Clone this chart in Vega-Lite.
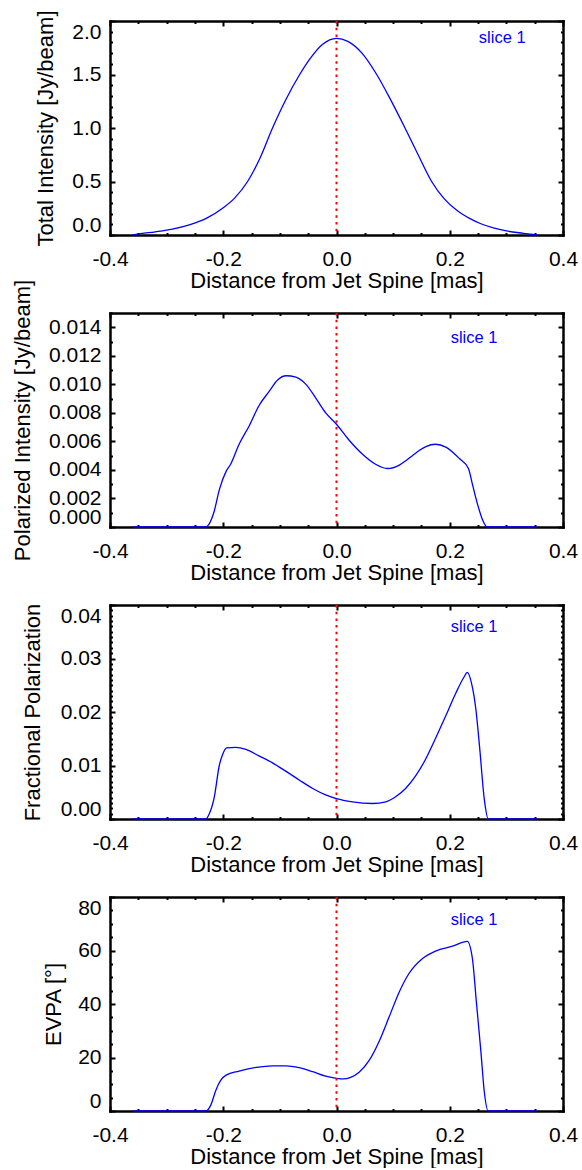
{
  "$schema": "https://vega.github.io/schema/vega-lite/v6.json",
  "padding": {"left": 11, "top": 10, "right": 0, "bottom": 0},
  "spacing": 78,
  "bounds": "flush",
  "config": {
    "view": {"stroke": null},
    "font": "Liberation Sans",
    "axis": {
      "labelFont": "Liberation Sans", "labelFontSize": 21, "labelColor": "#000000",
      "titleFont": "Liberation Sans", "titleFontSize": 22, "titleFontWeight": "normal", "titleColor": "#000000",
      "domainColor": "#000000", "domainWidth": 2.5, "domainCap": "square",
      "tickColor": "#000000", "tickWidth": 2, "grid": false,
      "labelOverlap": false, "labelBound": false
    }
  },
  "datasets": {
    "p1": [
      {"distance": -0.36, "value": 0}, {"distance": -0.35, "value": 0.01}, {"distance": -0.32, "value": 0.03},
      {"distance": -0.29, "value": 0.055}, {"distance": -0.26, "value": 0.095}, {"distance": -0.23, "value": 0.155},
      {"distance": -0.2, "value": 0.255}, {"distance": -0.18, "value": 0.345}, {"distance": -0.157, "value": 0.5},
      {"distance": -0.135, "value": 0.72}, {"distance": -0.113, "value": 1.0}, {"distance": -0.09, "value": 1.26},
      {"distance": -0.065, "value": 1.5}, {"distance": -0.045, "value": 1.66}, {"distance": -0.025, "value": 1.78},
      {"distance": 0.0, "value": 1.838}, {"distance": 0.02, "value": 1.81}, {"distance": 0.045, "value": 1.7},
      {"distance": 0.071, "value": 1.5}, {"distance": 0.095, "value": 1.27}, {"distance": 0.121, "value": 1.0},
      {"distance": 0.145, "value": 0.74}, {"distance": 0.168, "value": 0.5}, {"distance": 0.19, "value": 0.34},
      {"distance": 0.213, "value": 0.228}, {"distance": 0.235, "value": 0.155}, {"distance": 0.255, "value": 0.105},
      {"distance": 0.277, "value": 0.066}, {"distance": 0.3, "value": 0.038}, {"distance": 0.33, "value": 0.016},
      {"distance": 0.355, "value": 0}
    ],
    "p2": [
      {"distance": -0.36, "value": 0}, {"distance": -0.231, "value": 0}, {"distance": -0.225, "value": 0.0002},
      {"distance": -0.216, "value": 0.0011}, {"distance": -0.207, "value": 0.0026}, {"distance": -0.195, "value": 0.0039},
      {"distance": -0.187, "value": 0.0044}, {"distance": -0.172, "value": 0.0058}, {"distance": -0.154, "value": 0.0071},
      {"distance": -0.137, "value": 0.0085}, {"distance": -0.119, "value": 0.0095}, {"distance": -0.104, "value": 0.0103},
      {"distance": -0.089, "value": 0.0106}, {"distance": -0.072, "value": 0.0105}, {"distance": -0.054, "value": 0.01},
      {"distance": -0.036, "value": 0.009}, {"distance": -0.019, "value": 0.008}, {"distance": 0.0, "value": 0.0072},
      {"distance": 0.022, "value": 0.0061}, {"distance": 0.046, "value": 0.0051}, {"distance": 0.069, "value": 0.0044},
      {"distance": 0.09, "value": 0.0041}, {"distance": 0.111, "value": 0.00434}, {"distance": 0.123, "value": 0.00466},
      {"distance": 0.134, "value": 0.005}, {"distance": 0.146, "value": 0.00536}, {"distance": 0.158, "value": 0.00564},
      {"distance": 0.175, "value": 0.0058}, {"distance": 0.193, "value": 0.0056},
      {"distance": 0.217, "value": 0.0048}, {"distance": 0.233, "value": 0.0041}, {"distance": 0.24, "value": 0.003},
      {"distance": 0.249, "value": 0.0016}, {"distance": 0.258, "value": 0.0005}, {"distance": 0.266, "value": 0},
      {"distance": 0.355, "value": 0}
    ],
    "p3": [
      {"distance": -0.36, "value": 0}, {"distance": -0.231, "value": 0}, {"distance": -0.225, "value": 0.0009},
      {"distance": -0.216, "value": 0.004}, {"distance": -0.207, "value": 0.01}, {"distance": -0.201, "value": 0.0121},
      {"distance": -0.194, "value": 0.0133}, {"distance": -0.178, "value": 0.0134}, {"distance": -0.16, "value": 0.013},
      {"distance": -0.137, "value": 0.0118}, {"distance": -0.113, "value": 0.0105}, {"distance": -0.089, "value": 0.0089},
      {"distance": -0.066, "value": 0.0073}, {"distance": -0.042, "value": 0.0057}, {"distance": -0.019, "value": 0.0045},
      {"distance": 0.0, "value": 0.0038}, {"distance": 0.028, "value": 0.0032}, {"distance": 0.064, "value": 0.0029},
      {"distance": 0.087, "value": 0.0032}, {"distance": 0.105, "value": 0.0042}, {"distance": 0.122, "value": 0.0057},
      {"distance": 0.14, "value": 0.0081}, {"distance": 0.158, "value": 0.0113}, {"distance": 0.175, "value": 0.0151},
      {"distance": 0.193, "value": 0.0193}, {"distance": 0.211, "value": 0.0236}, {"distance": 0.225, "value": 0.0265},
      {"distance": 0.231, "value": 0.0274}, {"distance": 0.239, "value": 0.0251}, {"distance": 0.246, "value": 0.0206},
      {"distance": 0.253, "value": 0.0131}, {"distance": 0.261, "value": 0.0037}, {"distance": 0.268, "value": 0},
      {"distance": 0.355, "value": 0}
    ],
    "p4": [
      {"distance": -0.36, "value": 0}, {"distance": -0.231, "value": 0}, {"distance": -0.222, "value": 2.2},
      {"distance": -0.213, "value": 7.8}, {"distance": -0.204, "value": 11.6}, {"distance": -0.195, "value": 13.4},
      {"distance": -0.172, "value": 14.9}, {"distance": -0.142, "value": 16.3}, {"distance": -0.113, "value": 16.9},
      {"distance": -0.089, "value": 16.9}, {"distance": -0.066, "value": 16.2}, {"distance": -0.042, "value": 14.7},
      {"distance": -0.019, "value": 13.0}, {"distance": 0.0, "value": 12.2}, {"distance": 0.012, "value": 12.0},
      {"distance": 0.025, "value": 12.6}, {"distance": 0.04, "value": 14.5}, {"distance": 0.058, "value": 19.0},
      {"distance": 0.075, "value": 25.9}, {"distance": 0.093, "value": 35.2}, {"distance": 0.111, "value": 44.6},
      {"distance": 0.128, "value": 51.4}, {"distance": 0.152, "value": 57.0}, {"distance": 0.175, "value": 59.8},
      {"distance": 0.205, "value": 61.6}, {"distance": 0.231, "value": 63.4}, {"distance": 0.24, "value": 57.0},
      {"distance": 0.247, "value": 40.8}, {"distance": 0.255, "value": 22.2}, {"distance": 0.261, "value": 7.2},
      {"distance": 0.268, "value": 0}, {"distance": 0.355, "value": 0}
    ]
  },
  "vconcat": [
    {
      "width": 453, "height": 214,
      "layer": [
        {
          "data": {"name": "p1"},
          "mark": {"type": "line", "color": "#0000ff", "strokeWidth": 1.3, "interpolate": "monotone"},
          "encoding": {
            "x": {"field": "distance", "type": "quantitative", "scale": {"domain": [-0.4, 0.4], "nice": false, "zero": false},
              "axis": {"orient": "bottom", "title": "Distance from Jet Spine [mas]", "values": [-0.4,-0.35,-0.3,-0.25,-0.2,-0.15,-0.1,-0.05,0,0.05,0.1,0.15,0.2,0.25,0.3,0.35,0.4],
                "labelExpr": "abs(datum.value*5 - round(datum.value*5)) < 0.001 ? replace(format(datum.value, '.1f'), '\u2212', '-') : ''",
                "tickSize": {"condition": {"test": "abs(datum.value*5 - round(datum.value*5)) < 0.001", "value": -5}, "value": -2.5},
                "labelPadding": 18, "titlePadding": -1, "labelFlush": false}},
            "y": {"field": "value", "type": "quantitative", "scale": {"domain": [0, 2], "nice": false},
              "axis": {"orient": "left", "title": "Total Intensity [Jy/beam]", "values": [0,0.1,0.2,0.3,0.4,0.5,0.6,0.7,0.8,0.9,1,1.1,1.2,1.3,1.4,1.5,1.6,1.7,1.8,1.9,2],
                "labelExpr": "abs(datum.value*2 - round(datum.value*2)) < 0.001 ? format(datum.value, '.1f') : ''",
                "tickSize": {"condition": {"test": "abs(datum.value*2 - round(datum.value*2)) < 0.001", "value": -5}, "value": -2.5},
                "labelPadding": 14, "labelFlush": true, "titlePadding": 14}}
          }
        },
        {
          "data": {"values": [{}]},
          "mark": {"type": "rule", "color": "#ff0000", "strokeWidth": 2, "strokeDash": [2.5, 4.2]},
          "encoding": {
            "x": {"datum": 0, "type": "quantitative", "scale": {"domain": [-0.4, 0.4], "nice": false, "zero": false},
              "axis": {"orient": "top", "title": null, "labels": false, "values": [-0.4,-0.35,-0.3,-0.25,-0.2,-0.15,-0.1,-0.05,0,0.05,0.1,0.15,0.2,0.25,0.3,0.35,0.4],
                "tickSize": {"condition": {"test": "abs(datum.value*5 - round(datum.value*5)) < 0.001", "value": -5}, "value": -2.5}}}
          }
        },
        {
          "data": {"values": [{}]},
          "mark": {"type": "text", "text": "slice 1", "color": "#0000ff", "fontSize": 16.5, "font": "Liberation Sans", "align": "center", "baseline": "alphabetic"},
          "encoding": {
            "x": {"datum": 0.2926, "type": "quantitative", "scale": {"domain": [-0.4, 0.4], "nice": false, "zero": false}, "axis": null},
            "y": {"datum": 1.797, "type": "quantitative", "scale": {"domain": [0, 2], "nice": false},
              "axis": {"orient": "right", "title": null, "labels": false, "values": [0,0.1,0.2,0.3,0.4,0.5,0.6,0.7,0.8,0.9,1,1.1,1.2,1.3,1.4,1.5,1.6,1.7,1.8,1.9,2],
                "tickSize": {"condition": {"test": "abs(datum.value*2 - round(datum.value*2)) < 0.001", "value": -5}, "value": -2.5}}}
          }
        }
      ],
      "resolve": {"axis": {"x": "independent", "y": "independent"}}
    },
    {
      "width": 453, "height": 214,
      "layer": [
        {
          "data": {"name": "p2"},
          "mark": {"type": "line", "color": "#0000ff", "strokeWidth": 1.3, "interpolate": "monotone"},
          "encoding": {
            "x": {"field": "distance", "type": "quantitative", "scale": {"domain": [-0.4, 0.4], "nice": false, "zero": false},
              "axis": {"orient": "bottom", "title": "Distance from Jet Spine [mas]", "values": [-0.4,-0.35,-0.3,-0.25,-0.2,-0.15,-0.1,-0.05,0,0.05,0.1,0.15,0.2,0.25,0.3,0.35,0.4],
                "labelExpr": "abs(datum.value*5 - round(datum.value*5)) < 0.001 ? replace(format(datum.value, '.1f'), '\u2212', '-') : ''",
                "tickSize": {"condition": {"test": "abs(datum.value*5 - round(datum.value*5)) < 0.001", "value": -5}, "value": -2.5},
                "labelPadding": 18, "titlePadding": -1, "labelFlush": false}},
            "y": {"field": "value", "type": "quantitative", "scale": {"domain": [0, 0.015], "nice": false},
              "axis": {"orient": "left", "title": "Polarized Intensity [Jy/beam]", "values": [0,0.001,0.002,0.003,0.004,0.005,0.006,0.007,0.008,0.009,0.01,0.011,0.012,0.013,0.014,0.015],
                "labelExpr": "abs(datum.value*500 - round(datum.value*500)) < 0.001 && datum.value < 0.0145 ? format(datum.value, '.3f') : ''",
                "tickSize": {"condition": {"test": "abs(datum.value*500 - round(datum.value*500)) < 0.001", "value": -5}, "value": -2.5},
                "labelPadding": 14, "labelFlush": true, "titlePadding": 14}}
          }
        },
        {
          "data": {"values": [{}]},
          "mark": {"type": "rule", "color": "#ff0000", "strokeWidth": 2, "strokeDash": [2.5, 4.2]},
          "encoding": {
            "x": {"datum": 0, "type": "quantitative", "scale": {"domain": [-0.4, 0.4], "nice": false, "zero": false},
              "axis": {"orient": "top", "title": null, "labels": false, "values": [-0.4,-0.35,-0.3,-0.25,-0.2,-0.15,-0.1,-0.05,0,0.05,0.1,0.15,0.2,0.25,0.3,0.35,0.4],
                "tickSize": {"condition": {"test": "abs(datum.value*5 - round(datum.value*5)) < 0.001", "value": -5}, "value": -2.5}}}
          }
        },
        {
          "data": {"values": [{}]},
          "mark": {"type": "text", "text": "slice 1", "color": "#0000ff", "fontSize": 16.5, "font": "Liberation Sans", "align": "center", "baseline": "alphabetic"},
          "encoding": {
            "x": {"datum": 0.243, "type": "quantitative", "scale": {"domain": [-0.4, 0.4], "nice": false, "zero": false}, "axis": null},
            "y": {"datum": 0.0129, "type": "quantitative", "scale": {"domain": [0, 0.015], "nice": false},
              "axis": {"orient": "right", "title": null, "labels": false, "values": [0,0.001,0.002,0.003,0.004,0.005,0.006,0.007,0.008,0.009,0.01,0.011,0.012,0.013,0.014,0.015],
                "tickSize": {"condition": {"test": "abs(datum.value*500 - round(datum.value*500)) < 0.001", "value": -5}, "value": -2.5}}}
          }
        }
      ],
      "resolve": {"axis": {"x": "independent", "y": "independent"}}
    },
    {
      "width": 453, "height": 214,
      "layer": [
        {
          "data": {"name": "p3"},
          "mark": {"type": "line", "color": "#0000ff", "strokeWidth": 1.3, "interpolate": "monotone"},
          "encoding": {
            "x": {"field": "distance", "type": "quantitative", "scale": {"domain": [-0.4, 0.4], "nice": false, "zero": false},
              "axis": {"orient": "bottom", "title": "Distance from Jet Spine [mas]", "values": [-0.4,-0.35,-0.3,-0.25,-0.2,-0.15,-0.1,-0.05,0,0.05,0.1,0.15,0.2,0.25,0.3,0.35,0.4],
                "labelExpr": "abs(datum.value*5 - round(datum.value*5)) < 0.001 ? replace(format(datum.value, '.1f'), '\u2212', '-') : ''",
                "tickSize": {"condition": {"test": "abs(datum.value*5 - round(datum.value*5)) < 0.001", "value": -5}, "value": -2.5},
                "labelPadding": 18, "titlePadding": -1, "labelFlush": false}},
            "y": {"field": "value", "type": "quantitative", "scale": {"domain": [0, 0.04], "nice": false},
              "axis": {"orient": "left", "title": "Fractional Polarization", "values": [0,0.001,0.002,0.003,0.004,0.005,0.006,0.007,0.008,0.009,0.01,0.011,0.012,0.013,0.014,0.015,0.016,0.017,0.018,0.019,0.02,0.021,0.022,0.023,0.024,0.025,0.026,0.027,0.028,0.029,0.03,0.031,0.032,0.033,0.034,0.035,0.036,0.037,0.038,0.039,0.04],
                "labelExpr": "abs(datum.value*100 - round(datum.value*100)) < 0.001 ? format(datum.value, '.2f') : ''",
                "tickSize": {"condition": {"test": "abs(datum.value*100 - round(datum.value*100)) < 0.001", "value": -5}, "value": -2.5},
                "labelPadding": 14, "labelFlush": true, "titlePadding": 16}}
          }
        },
        {
          "data": {"values": [{}]},
          "mark": {"type": "rule", "color": "#ff0000", "strokeWidth": 2, "strokeDash": [2.5, 4.2]},
          "encoding": {
            "x": {"datum": 0, "type": "quantitative", "scale": {"domain": [-0.4, 0.4], "nice": false, "zero": false},
              "axis": {"orient": "top", "title": null, "labels": false, "values": [-0.4,-0.35,-0.3,-0.25,-0.2,-0.15,-0.1,-0.05,0,0.05,0.1,0.15,0.2,0.25,0.3,0.35,0.4],
                "tickSize": {"condition": {"test": "abs(datum.value*5 - round(datum.value*5)) < 0.001", "value": -5}, "value": -2.5}}}
          }
        },
        {
          "data": {"values": [{}]},
          "mark": {"type": "text", "text": "slice 1", "color": "#0000ff", "fontSize": 16.5, "font": "Liberation Sans", "align": "center", "baseline": "alphabetic"},
          "encoding": {
            "x": {"datum": 0.243, "type": "quantitative", "scale": {"domain": [-0.4, 0.4], "nice": false, "zero": false}, "axis": null},
            "y": {"datum": 0.0349, "type": "quantitative", "scale": {"domain": [0, 0.04], "nice": false},
              "axis": {"orient": "right", "title": null, "labels": false, "values": [0,0.001,0.002,0.003,0.004,0.005,0.006,0.007,0.008,0.009,0.01,0.011,0.012,0.013,0.014,0.015,0.016,0.017,0.018,0.019,0.02,0.021,0.022,0.023,0.024,0.025,0.026,0.027,0.028,0.029,0.03,0.031,0.032,0.033,0.034,0.035,0.036,0.037,0.038,0.039,0.04],
                "tickSize": {"condition": {"test": "abs(datum.value*100 - round(datum.value*100)) < 0.001", "value": -5}, "value": -2.5}}}
          }
        }
      ],
      "resolve": {"axis": {"x": "independent", "y": "independent"}}
    },
    {
      "width": 453, "height": 214,
      "layer": [
        {
          "data": {"name": "p4"},
          "mark": {"type": "line", "color": "#0000ff", "strokeWidth": 1.3, "interpolate": "monotone"},
          "encoding": {
            "x": {"field": "distance", "type": "quantitative", "scale": {"domain": [-0.4, 0.4], "nice": false, "zero": false},
              "axis": {"orient": "bottom", "title": "Distance from Jet Spine [mas]", "values": [-0.4,-0.35,-0.3,-0.25,-0.2,-0.15,-0.1,-0.05,0,0.05,0.1,0.15,0.2,0.25,0.3,0.35,0.4],
                "labelExpr": "abs(datum.value*5 - round(datum.value*5)) < 0.001 ? replace(format(datum.value, '.1f'), '\u2212', '-') : ''",
                "tickSize": {"condition": {"test": "abs(datum.value*5 - round(datum.value*5)) < 0.001", "value": -5}, "value": -2.5},
                "labelPadding": 18, "titlePadding": -1, "labelFlush": false}},
            "y": {"field": "value", "type": "quantitative", "scale": {"domain": [0, 80], "nice": false},
              "axis": {"orient": "left", "title": "EVPA [°]", "values": [0,5,10,15,20,25,30,35,40,45,50,55,60,65,70,75,80],
                "labelExpr": "abs(datum.value/20 - round(datum.value/20)) < 0.001 ? format(datum.value, 'd') : ''",
                "tickSize": {"condition": {"test": "abs(datum.value/20 - round(datum.value/20)) < 0.001", "value": -5}, "value": -2.5},
                "labelPadding": 14, "labelFlush": true, "titlePadding": 12}}
          }
        },
        {
          "data": {"values": [{}]},
          "mark": {"type": "rule", "color": "#ff0000", "strokeWidth": 2, "strokeDash": [2.5, 4.2]},
          "encoding": {
            "x": {"datum": 0, "type": "quantitative", "scale": {"domain": [-0.4, 0.4], "nice": false, "zero": false},
              "axis": {"orient": "top", "title": null, "labels": false, "values": [-0.4,-0.35,-0.3,-0.25,-0.2,-0.15,-0.1,-0.05,0,0.05,0.1,0.15,0.2,0.25,0.3,0.35,0.4],
                "tickSize": {"condition": {"test": "abs(datum.value*5 - round(datum.value*5)) < 0.001", "value": -5}, "value": -2.5}}}
          }
        },
        {
          "data": {"values": [{}]},
          "mark": {"type": "text", "text": "slice 1", "color": "#0000ff", "fontSize": 16.5, "font": "Liberation Sans", "align": "center", "baseline": "alphabetic"},
          "encoding": {
            "x": {"datum": 0.243, "type": "quantitative", "scale": {"domain": [-0.4, 0.4], "nice": false, "zero": false}, "axis": null},
            "y": {"datum": 69.4, "type": "quantitative", "scale": {"domain": [0, 80], "nice": false},
              "axis": {"orient": "right", "title": null, "labels": false, "values": [0,5,10,15,20,25,30,35,40,45,50,55,60,65,70,75,80],
                "tickSize": {"condition": {"test": "abs(datum.value/20 - round(datum.value/20)) < 0.001", "value": -5}, "value": -2.5}}}
          }
        }
      ],
      "resolve": {"axis": {"x": "independent", "y": "independent"}}
    }
  ]
}
